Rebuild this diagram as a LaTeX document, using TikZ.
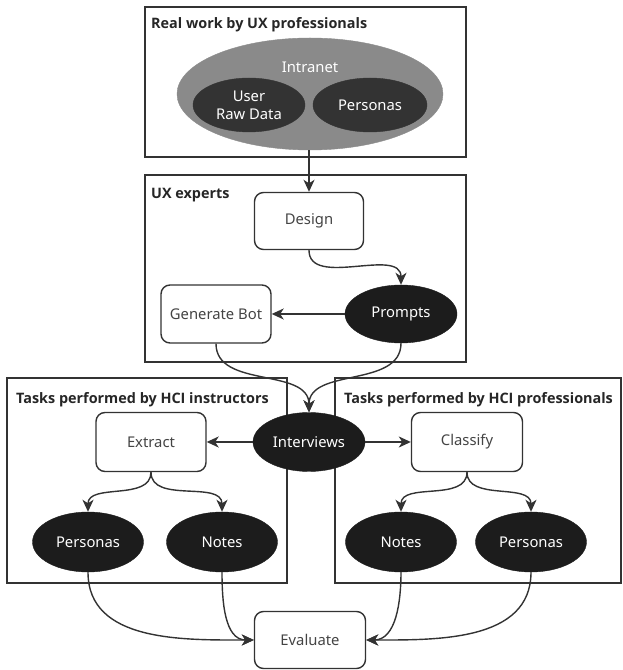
\documentclass[tikz,border=0pt]{standalone}
\usepackage{fontspec}
\setmainfont{Noto Sans}
\newfontfamily\titlefont{Open Sans}
\usetikzlibrary{arrows.meta,shapes.geometric}
\definecolor{linec}{HTML}{333333}
\definecolor{darkfill}{HTML}{1C1C1C}
\definecolor{innerfill}{HTML}{333333}
\definecolor{grayfill}{HTML}{8A8A8A}
\definecolor{boxtext}{HTML}{444444}
\tikzset{
  grp/.style={draw=linec, line width=1.4pt},
  grptitle/.style={anchor=west, font=\titlefont\fontsize{14.4}{16}\selectfont\bfseries, text=black!85, inner sep=0pt},
  procbox/.style={draw=linec, line width=1.4pt, rounded corners=9pt, fill=white, text=boxtext,
    minimum width=110pt, minimum height=58pt, font=\fontsize{14.8}{18}\selectfont},
  darkell/.style={ellipse, fill=darkfill, draw=darkfill, text=white, inner sep=0pt,
    minimum width=112pt, minimum height=59pt, font=\fontsize{14.8}{18}\selectfont},
  conn/.style={draw=linec, line width=1.4pt, -{Stealth[length=12pt,width=11pt,inset=3.5pt]}},
}
\begin{document}
\begin{tikzpicture}[x=1pt,y=1pt]
\useasboundingbox (0,0) rectangle (622,670);
% group boxes
\node[grp, minimum width=321pt, minimum height=150pt, inner sep=0pt] (g1) at (305.5,588) {};
\node[grptitle] (t1) at (151,645) {Real work by UX professionals};
\node[grp, minimum width=321pt, minimum height=187pt, inner sep=0pt] (g2) at (305.5,401.5) {};
\node[grptitle] (t2) at (151,475) {UX experts};
\node[grp, minimum width=280pt, minimum height=205pt, inner sep=0pt] (g3) at (147,189.5) {};
\node[grptitle] (t3) at (16,270) {Tasks performed by HCI instructors};
\node[grp, minimum width=286pt, minimum height=205pt, inner sep=0pt] (g4) at (478,189.5) {};
\node[grptitle] (t4) at (344,270) {Tasks performed by HCI professionals};
% top group content
\node[ellipse, fill=grayfill, draw=grayfill, minimum width=266pt, minimum height=112pt, inner sep=0pt] (intranet) at (310,576) {};
\node[text=white, font=\fontsize{14.8}{18}\selectfont, inner sep=0pt] (intranetlbl) at (310,603) {Intranet};
\node[ellipse, fill=innerfill, draw=innerfill, text=white, minimum width=112pt, minimum height=54pt, inner sep=0pt,
  font=\fontsize{14.8}{18}\selectfont, align=center] (rawdata) at (249,565) {User\\Raw Data};
\node[ellipse, fill=innerfill, draw=innerfill, text=white, minimum width=114pt, minimum height=54pt, inner sep=0pt,
  font=\fontsize{14.8}{18}\selectfont] (personasT) at (370,565) {Personas};
% UX experts
\node[procbox, minimum width=109pt, minimum height=57pt] (design) at (309,449) {Design};
\node[procbox] (genbot) at (216,356) {Generate Bot};
\node[darkell, minimum height=58pt] (prompts) at (401,356) {Prompts};
% middle
\node[darkell] (interviews) at (309,228) {Interviews};
\node[procbox, minimum height=59pt] (extract) at (151,228) {Extract};
\node[procbox, minimum width=111pt, minimum height=59pt] (classify) at (467,228) {Classify};
\node[darkell, minimum width=111pt, minimum height=60pt] (personasL) at (88,128) {Personas};
\node[darkell, minimum width=111pt, minimum height=60pt] (notesL) at (222,128) {Notes};
\node[darkell, minimum width=111pt, minimum height=60pt] (notesR) at (401,128) {Notes};
\node[darkell, minimum width=111pt, minimum height=60pt] (personasR) at (531,128) {Personas};
\node[procbox, minimum width=111pt, minimum height=57pt] (evaluate) at (310,30) {Evaluate};
% connectors
\draw[conn] (intranet.south -| design.north) -- (design.north);
\draw[conn] (design.south) to[out=-90,in=90] (prompts.north);
\draw[conn] (prompts.west) -- (genbot.east);
\draw[conn] (genbot.south) to[out=-90,in=90] (interviews.north);
\draw[conn] (prompts.south) to[out=-90,in=90] (interviews.north);
\draw[conn] (interviews.west) -- (extract.east);
\draw[conn] (interviews.east) -- (classify.west);
\draw[conn] (extract.south) to[out=-90,in=90] (personasL.north);
\draw[conn] (extract.south) to[out=-90,in=90] (notesL.north);
\draw[conn] (classify.south) to[out=-90,in=90] (notesR.north);
\draw[conn] (classify.south) to[out=-90,in=90] (personasR.north);
\draw[conn] (personasL.south) to[out=-90,in=180] (evaluate.west);
\draw[conn] (notesL.south) to[out=-90,in=180] (evaluate.west);
\draw[conn] (notesR.south) to[out=-90,in=0] (evaluate.east);
\draw[conn] (personasR.south) to[out=-90,in=0] (evaluate.east);
\end{tikzpicture}
\end{document}
